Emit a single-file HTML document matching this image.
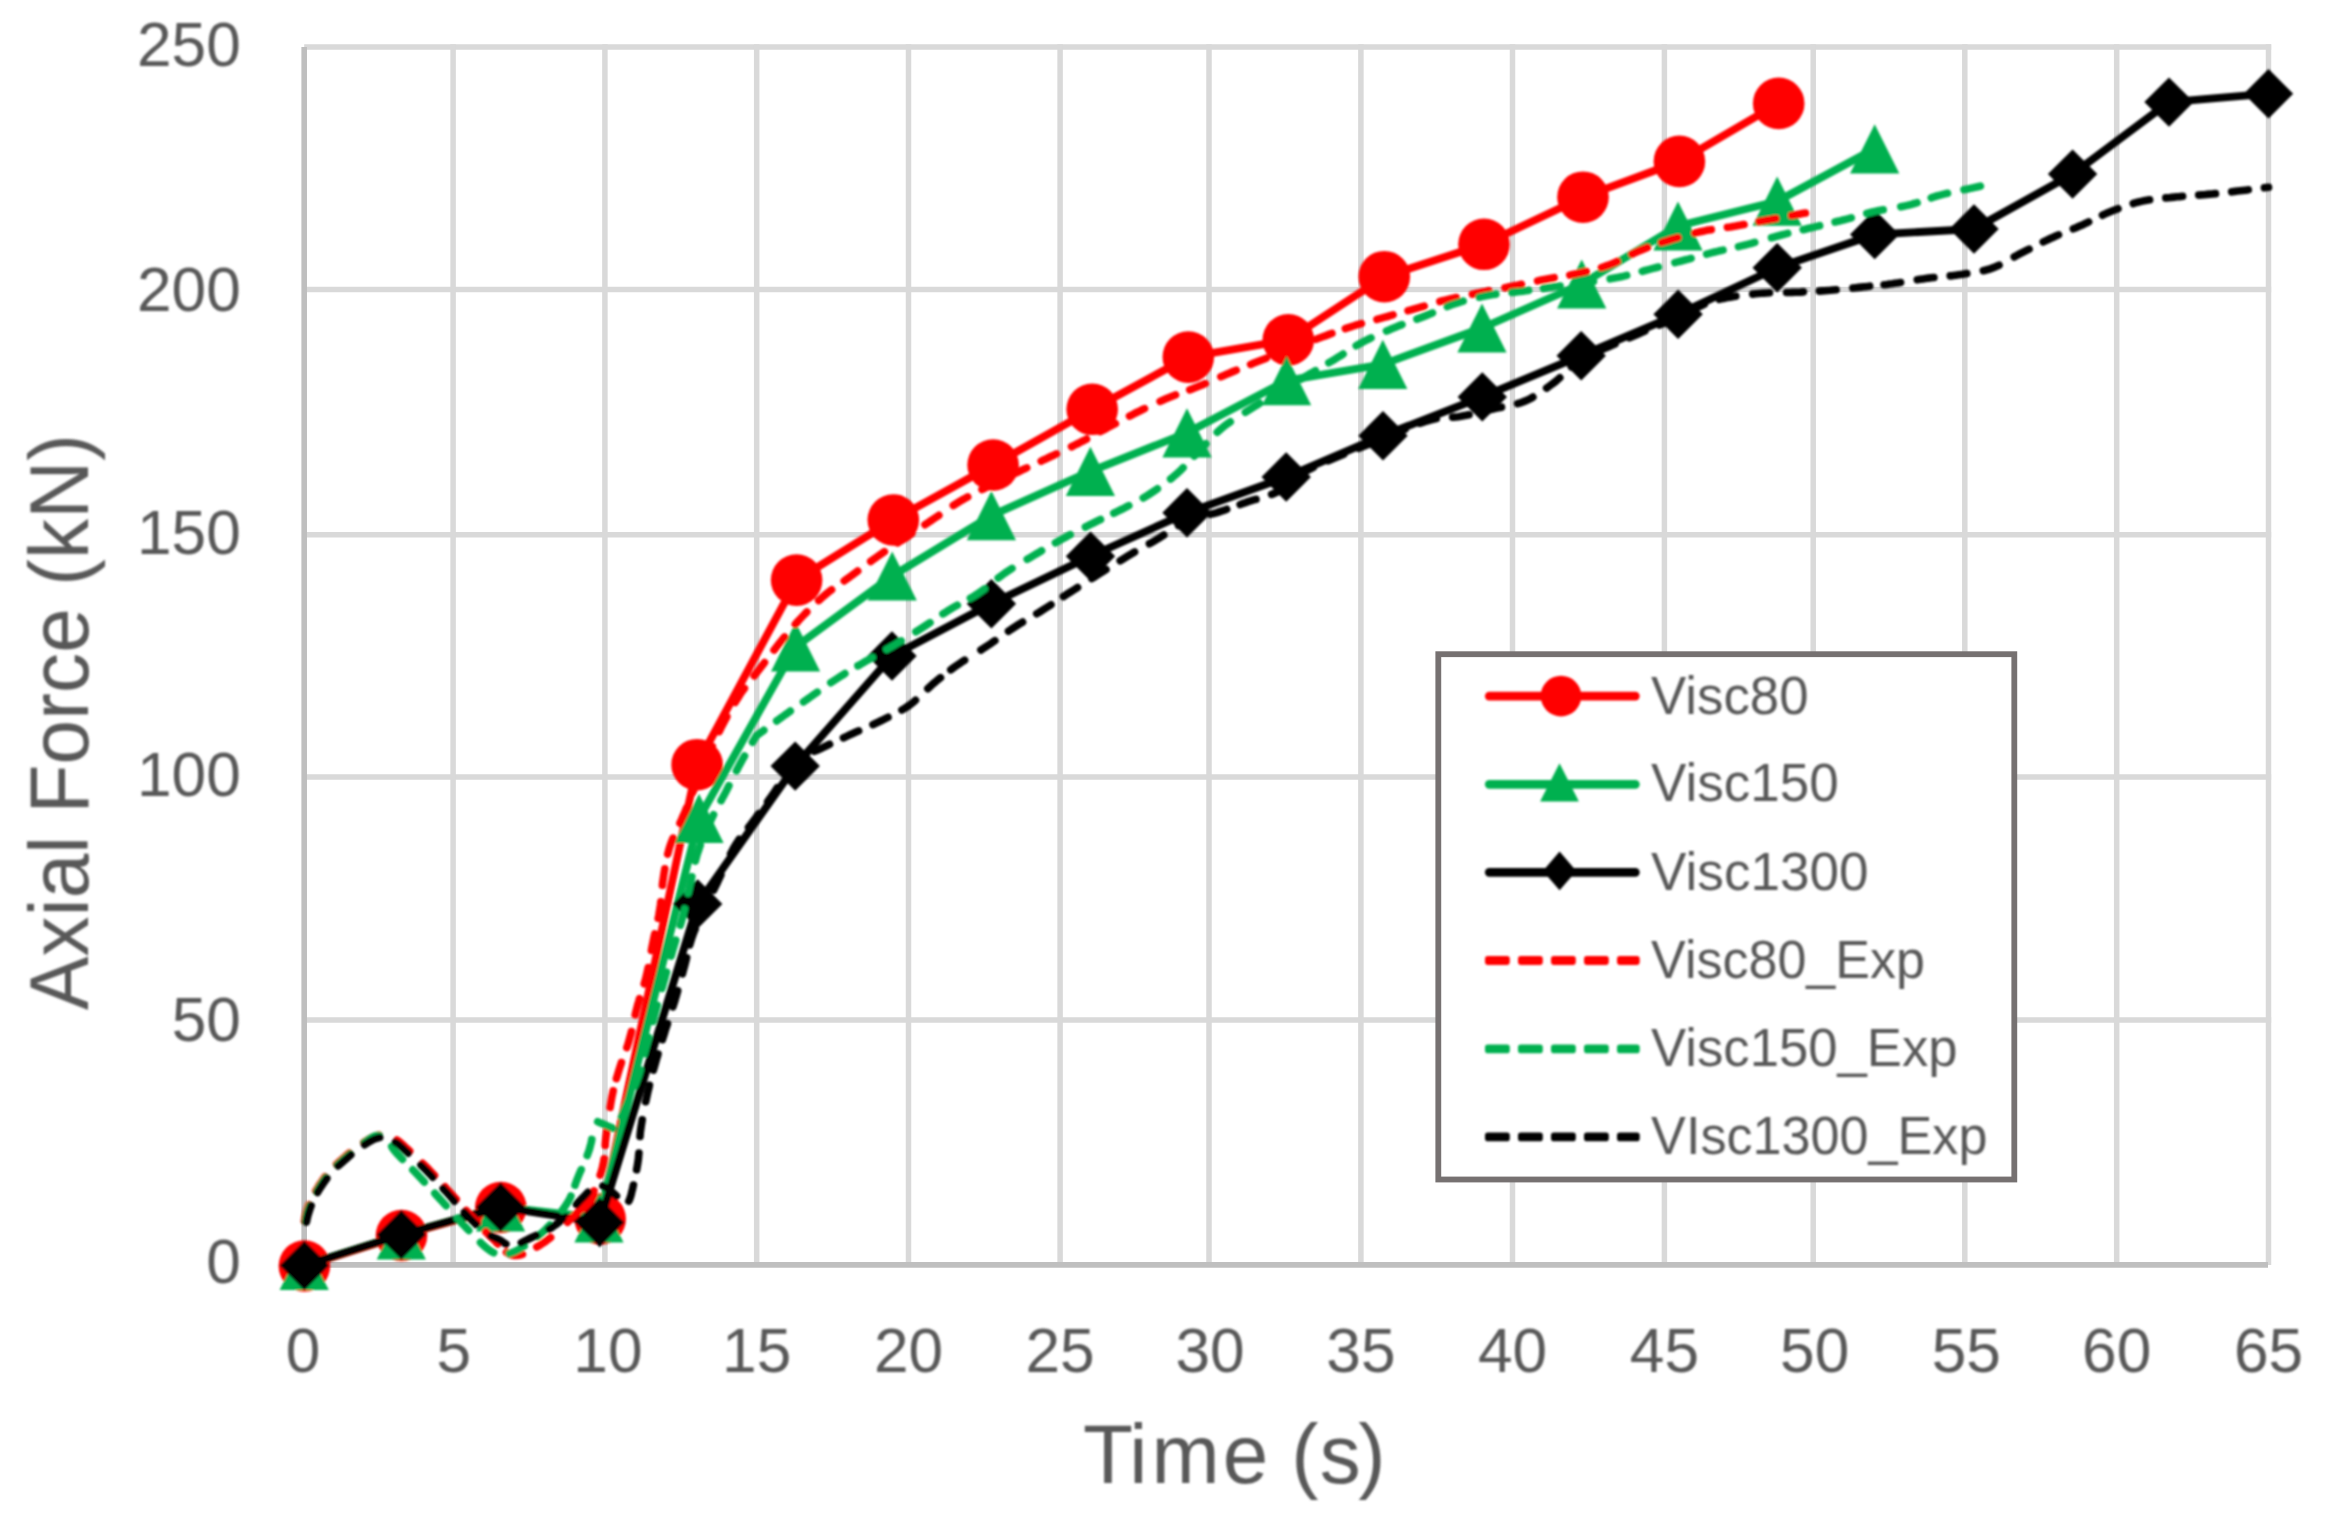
<!DOCTYPE html>
<html lang="en"><head><meta charset="utf-8"><title>Axial Force vs Time</title>
<style>html,body{margin:0;padding:0;background:#fff}body{width:2325px;height:1519px;overflow:hidden}svg{display:block}text{font-family:'Liberation Sans', Arial, sans-serif;fill:#595959}</style></head><body>
<svg width="2325" height="1519" viewBox="0 0 2325 1519">
<rect width="2325" height="1519" fill="#fff"/>
<defs><filter id="soft" x="0" y="0" width="2325" height="1519" filterUnits="userSpaceOnUse"><feGaussianBlur stdDeviation="0.8"/></filter></defs>
<g stroke="#d9d9d9" stroke-width="5.5" fill="none">
<line x1="304.2" y1="47.0" x2="2271.2" y2="47.0"/>
<line x1="304.2" y1="289.4" x2="2271.2" y2="289.4"/>
<line x1="304.2" y1="534.8" x2="2271.2" y2="534.8"/>
<line x1="304.2" y1="777.0" x2="2271.2" y2="777.0"/>
<line x1="304.2" y1="1019.9" x2="2271.2" y2="1019.9"/>
<line x1="453.1" y1="44.3" x2="453.1" y2="1264.9"/>
<line x1="604.9" y1="44.3" x2="604.9" y2="1264.9"/>
<line x1="756.7" y1="44.3" x2="756.7" y2="1264.9"/>
<line x1="908.5" y1="44.3" x2="908.5" y2="1264.9"/>
<line x1="1060.1" y1="44.3" x2="1060.1" y2="1264.9"/>
<line x1="1209.0" y1="44.3" x2="1209.0" y2="1264.9"/>
<line x1="1360.9" y1="44.3" x2="1360.9" y2="1264.9"/>
<line x1="1512.5" y1="44.3" x2="1512.5" y2="1264.9"/>
<line x1="1664.4" y1="44.3" x2="1664.4" y2="1264.9"/>
<line x1="1813.2" y1="44.3" x2="1813.2" y2="1264.9"/>
<line x1="1964.8" y1="44.3" x2="1964.8" y2="1264.9"/>
<line x1="2116.7" y1="44.3" x2="2116.7" y2="1264.9"/>
<line x1="2268.5" y1="44.3" x2="2268.5" y2="1264.9"/>
</g>
<g stroke="#bfbfbf" stroke-width="5.6" fill="none">
<line x1="304.2" y1="47.0" x2="304.2" y2="1267.7"/>
<line x1="301.4" y1="1264.9" x2="2268.0" y2="1264.9"/>
</g>
<g filter="url(#soft)">
<g font-size="62.2">
<text x="240.8" y="65.5" text-anchor="end">250</text>
<text x="240.8" y="311.3" text-anchor="end">200</text>
<text x="240.8" y="553.9" text-anchor="end">150</text>
<text x="240.8" y="795.8" text-anchor="end">100</text>
<text x="240.8" y="1041.2" text-anchor="end">50</text>
<text x="240.8" y="1283.1" text-anchor="end">0</text>
<text x="303.0" y="1371.5" text-anchor="middle">0</text>
<text x="453.7" y="1371.5" text-anchor="middle">5</text>
<text x="607.9" y="1371.5" text-anchor="middle">10</text>
<text x="756.7" y="1371.5" text-anchor="middle">15</text>
<text x="908.5" y="1371.5" text-anchor="middle">20</text>
<text x="1060.1" y="1371.5" text-anchor="middle">25</text>
<text x="1210.0" y="1371.5" text-anchor="middle">30</text>
<text x="1360.9" y="1371.5" text-anchor="middle">35</text>
<text x="1512.5" y="1371.5" text-anchor="middle">40</text>
<text x="1664.4" y="1371.5" text-anchor="middle">45</text>
<text x="1814.7" y="1371.5" text-anchor="middle">50</text>
<text x="1966.3" y="1371.5" text-anchor="middle">55</text>
<text x="2116.7" y="1371.5" text-anchor="middle">60</text>
<text x="2268.5" y="1371.5" text-anchor="middle">65</text>
</g>
<text transform="translate(1084.7,1483.1) scale(0.977,1)" x="-1.7" y="0" dx="0 -0.8 4.1 3.2 0 0.1 1.5 -2.5" font-size="83.8">Time (s)</text>
<text transform="translate(88,1010.1) rotate(-90) scale(0.959,1)" x="0" y="0" font-size="83.8">Axial Force (kN)</text>
<polyline points="304.4,1266.0 401.5,1235.5 500.8,1207.5 600.2,1219.0 697.1,764.7 796.6,580.1 893.3,520.0 993.1,465.0 1092.2,409.3 1188.3,357.1 1288.3,339.8 1384.3,276.7 1484.0,244.3 1583.0,197.2 1679.4,161.4 1778.7,103.4" fill="none" stroke="#ff0000" stroke-width="7.8" stroke-linejoin="round" stroke-linecap="round"/>
<g fill="#ff0000">
<circle cx="304.4" cy="1266.0" r="25.8"/>
<circle cx="401.5" cy="1235.5" r="25.8"/>
<circle cx="500.8" cy="1207.5" r="25.8"/>
<circle cx="600.2" cy="1219.0" r="25.8"/>
<circle cx="697.1" cy="764.7" r="25.8"/>
<circle cx="796.6" cy="580.1" r="25.8"/>
<circle cx="893.3" cy="520.0" r="25.8"/>
<circle cx="993.1" cy="465.0" r="25.8"/>
<circle cx="1092.2" cy="409.3" r="25.8"/>
<circle cx="1188.3" cy="357.1" r="25.8"/>
<circle cx="1288.3" cy="339.8" r="25.8"/>
<circle cx="1384.3" cy="276.7" r="25.8"/>
<circle cx="1484.0" cy="244.3" r="25.8"/>
<circle cx="1583.0" cy="197.2" r="25.8"/>
<circle cx="1679.4" cy="161.4" r="25.8"/>
<circle cx="1778.7" cy="103.4" r="25.8"/>
</g>
<polyline points="304.2,1265.5 401.3,1234.8 500.6,1207.0 599.0,1218.0 699.0,818.3 795.6,646.8 892.2,576.0 991.4,515.6 1090.4,471.3 1187.0,432.8 1286.6,380.6 1382.8,364.3 1482.0,328.0 1581.7,284.0 1678.0,226.0 1777.2,201.2 1874.7,148.8" fill="none" stroke="#00b050" stroke-width="7.8" stroke-linejoin="round" stroke-linecap="round"/>
<g fill="#00b050">
<path d="M304.2 1240.9L328.8 1290.1L279.6 1290.1Z"/>
<path d="M401.3 1210.2L425.9 1259.4L376.7 1259.4Z"/>
<path d="M500.6 1182.4L525.2 1231.6L476.0 1231.6Z"/>
<path d="M599.0 1193.4L623.6 1242.6L574.4 1242.6Z"/>
<path d="M699.0 793.7L723.6 842.9L674.4 842.9Z"/>
<path d="M795.6 622.2L820.2 671.4L771.0 671.4Z"/>
<path d="M892.2 551.4L916.8 600.6L867.6 600.6Z"/>
<path d="M991.4 491.0L1016.0 540.2L966.8 540.2Z"/>
<path d="M1090.4 446.7L1115.0 495.9L1065.8 495.9Z"/>
<path d="M1187.0 408.2L1211.6 457.4L1162.4 457.4Z"/>
<path d="M1286.6 356.0L1311.2 405.2L1262.0 405.2Z"/>
<path d="M1382.8 339.7L1407.4 388.9L1358.2 388.9Z"/>
<path d="M1482.0 303.4L1506.6 352.6L1457.4 352.6Z"/>
<path d="M1581.7 259.4L1606.3 308.6L1557.1 308.6Z"/>
<path d="M1678.0 201.4L1702.6 250.6L1653.4 250.6Z"/>
<path d="M1777.2 176.6L1801.8 225.8L1752.6 225.8Z"/>
<path d="M1874.7 124.2L1899.3 173.4L1850.1 173.4Z"/>
</g>
<polyline points="304.4,1265.5 401.3,1234.8 500.6,1207.1 599.7,1222.5 697.7,903.9 795.2,766.1 892.0,656.0 991.4,603.7 1090.5,556.2 1187.0,512.8 1286.2,477.0 1383.0,435.7 1482.3,396.9 1581.2,355.7 1678.1,314.3 1777.2,267.7 1874.7,234.5 1974.0,229.0 2072.6,174.1 2169.0,102.1 2268.5,93.7" fill="none" stroke="#000000" stroke-width="7.8" stroke-linejoin="round" stroke-linecap="round"/>
<g fill="#000000">
<path d="M304.4 1240.8L329.1 1265.5L304.4 1290.2L279.7 1265.5Z"/>
<path d="M401.3 1210.1L426.0 1234.8L401.3 1259.5L376.6 1234.8Z"/>
<path d="M500.6 1182.4L525.3 1207.1L500.6 1231.8L475.9 1207.1Z"/>
<path d="M599.7 1197.8L624.4 1222.5L599.7 1247.2L575.0 1222.5Z"/>
<path d="M697.7 879.2L722.4 903.9L697.7 928.6L673.0 903.9Z"/>
<path d="M795.2 741.4L819.9 766.1L795.2 790.8L770.5 766.1Z"/>
<path d="M892.0 631.3L916.7 656.0L892.0 680.7L867.3 656.0Z"/>
<path d="M991.4 579.0L1016.1 603.7L991.4 628.4L966.7 603.7Z"/>
<path d="M1090.5 531.5L1115.2 556.2L1090.5 580.9L1065.8 556.2Z"/>
<path d="M1187.0 488.1L1211.7 512.8L1187.0 537.5L1162.3 512.8Z"/>
<path d="M1286.2 452.3L1310.9 477.0L1286.2 501.7L1261.5 477.0Z"/>
<path d="M1383.0 411.0L1407.7 435.7L1383.0 460.4L1358.3 435.7Z"/>
<path d="M1482.3 372.2L1507.0 396.9L1482.3 421.6L1457.6 396.9Z"/>
<path d="M1581.2 331.0L1605.9 355.7L1581.2 380.4L1556.5 355.7Z"/>
<path d="M1678.1 289.6L1702.8 314.3L1678.1 339.0L1653.4 314.3Z"/>
<path d="M1777.2 243.0L1801.9 267.7L1777.2 292.4L1752.5 267.7Z"/>
<path d="M1874.7 209.8L1899.4 234.5L1874.7 259.2L1850.0 234.5Z"/>
<path d="M1974.0 204.3L1998.7 229.0L1974.0 253.7L1949.3 229.0Z"/>
<path d="M2072.6 149.4L2097.3 174.1L2072.6 198.8L2047.9 174.1Z"/>
<path d="M2169.0 77.4L2193.7 102.1L2169.0 126.8L2144.3 102.1Z"/>
<path d="M2268.5 69.0L2293.2 93.7L2268.5 118.4L2243.8 93.7Z"/>
</g>
<path d="M304.4 1220.9L304.5 1220.4L304.7 1219.1L304.9 1217.8L305.2 1216.5L305.5 1215.3L305.8 1214.0L306.1 1212.7L306.5 1211.4L306.9 1210.2L307.3 1208.9L307.7 1207.6L308.2 1206.4L308.7 1205.1L308.9 1204.8M315.7 1190.8L316.5 1189.5L317.2 1188.3L317.9 1187.2L318.6 1186.0L319.3 1184.9L320.1 1183.7L320.9 1182.5L321.7 1181.4L322.4 1180.2L323.3 1179.1L324.1 1177.9L324.9 1176.8M336.5 1164.1L337.5 1163.2L338.5 1162.3L339.6 1161.3L340.7 1160.4L341.7 1159.4L342.8 1158.5L343.8 1157.6L344.9 1156.7L345.9 1155.8L346.9 1154.9L348.0 1154.0L349.1 1153.0M363.8 1142.3L364.8 1141.6L366.2 1140.8L367.5 1140.0L368.7 1139.3L369.9 1138.6L371.0 1138.0L372.0 1137.5L373.0 1137.0L373.9 1136.6L374.8 1136.3L375.7 1136.0L376.5 1135.7L377.2 1135.5L378.0 1135.3L378.9 1135.1M397.0 1140.1L397.5 1140.4L397.9 1140.7L398.2 1140.9L398.5 1141.1L398.9 1141.4L399.3 1141.7L399.8 1142.1L400.5 1142.7L401.3 1143.4L402.3 1144.3L403.5 1145.4L405.0 1146.8L406.7 1148.3L408.6 1150.1L409.7 1151.1M422.7 1163.4L424.5 1165.1L426.7 1167.3L428.7 1169.3L430.6 1171.3L432.5 1173.3L434.5 1175.4M445.0 1186.8L445.2 1187.1L447.0 1189.1L448.8 1191.0L450.6 1193.0L452.4 1195.0L454.2 1197.0L456.0 1199.0L456.2 1199.2M466.3 1210.5L466.7 1210.9L468.4 1212.9L470.2 1214.8L471.9 1216.7L473.6 1218.6L475.3 1220.4L477.0 1222.3L477.5 1222.9M485.8 1231.9L486.9 1233.0L488.5 1234.7L490.3 1236.4L492.0 1238.0L493.8 1239.7L495.5 1241.5L497.2 1243.4L497.7 1243.9M506.5 1252.3L508.1 1253.4L510.0 1254.4L512.1 1255.1L514.2 1255.5L516.4 1255.5L518.7 1255.2L521.1 1254.7L522.5 1254.3M536.8 1247.1L538.9 1245.8L541.4 1244.1L543.9 1242.5L546.4 1240.8L549.0 1238.8L550.6 1237.5M567.5 1222.2L569.3 1220.4L571.5 1218.3L573.5 1216.4L575.4 1214.7L577.1 1213.1L578.7 1211.6L579.7 1210.7M585.3 1205.1L586.6 1203.6L587.8 1202.0L589.0 1200.2L590.2 1198.3L591.4 1196.1L592.6 1193.8L593.8 1191.4L594.0 1190.8M600.1 1175.1L601.0 1172.3L601.8 1169.6L602.5 1167.0L603.1 1164.5L603.6 1162.0L603.9 1159.6L604.1 1158.8M605.2 1145.4L605.2 1145.0L605.4 1142.4L605.7 1139.8L606.0 1137.0L606.4 1134.1L606.8 1131.0L607.1 1128.7M610.1 1107.3L610.5 1104.9L611.0 1101.9L611.5 1099.0L612.0 1096.3L612.6 1093.7L613.1 1091.3L613.2 1090.8M616.4 1078.7L616.7 1077.7L617.4 1075.4L618.1 1073.0L618.8 1070.6L619.6 1068.1L620.4 1065.6L621.3 1063.1L621.4 1062.6M626.8 1047.6L627.7 1044.9L628.5 1042.3L629.3 1039.6L630.0 1036.9L630.8 1034.2L631.4 1031.5M635.2 1014.9L635.8 1012.1L636.5 1009.4L637.2 1006.7L637.9 1004.1L638.7 1001.5L639.5 998.6M644.2 983.8L645.0 981.0L645.7 978.4L646.4 975.7L647.0 973.0L647.6 970.2L648.2 967.5M651.4 950.4L651.9 947.6L652.5 944.9L653.0 942.1L653.6 939.4L654.1 936.7L654.8 933.9M658.2 918.3L658.8 915.4L659.2 912.7L659.7 910.0L660.1 907.3L660.5 904.5L660.8 901.7M662.4 885.3L662.7 882.4L663.1 879.7L663.5 877.0L663.9 874.3L664.3 871.7L664.8 869.1L664.8 868.7M667.7 854.1L667.8 853.8L668.5 851.2L669.2 848.6L670.0 846.0L670.9 843.4L671.9 840.8L673.0 838.1M679.9 823.2L680.2 822.5L681.5 819.8L682.7 816.9L684.0 814.0L685.3 811.0L686.6 807.8M692.7 792.6L692.9 792.0L694.3 788.7L695.7 785.3L697.1 781.9L698.5 778.5L699.1 777.0M705.6 761.9L706.4 760.1L708.1 756.2L709.8 752.2L711.5 748.3L712.3 746.5M719.2 731.6L720.0 730.0L721.6 726.7L723.3 723.5L724.9 720.4L726.6 717.4L726.9 716.7M735.1 702.4L736.3 700.5L738.0 697.9L739.6 695.3L741.2 692.8L742.9 690.4L744.4 688.4M754.2 675.8L754.4 675.5L756.1 673.4L757.7 671.3L759.4 669.2L761.0 667.0L762.7 664.9L764.5 662.5M774.0 650.1L775.8 647.8L777.5 645.6L779.2 643.5L780.9 641.4L782.7 639.2L784.5 637.0M795.3 624.2L797.2 622.1L799.1 620.0L801.0 618.0L802.9 616.0L804.8 614.0L806.8 612.0M818.7 600.5L820.9 598.6L822.9 596.8L825.0 595.0L827.1 593.3L829.2 591.6L831.3 590.0L831.6 589.8M844.2 580.9L844.4 580.7L846.6 579.1L848.8 577.6L851.0 576.0L853.2 574.4L855.4 572.8L857.7 571.0M870.7 561.4L873.0 559.7L875.3 558.1L877.5 556.5L879.8 554.9L882.0 553.4L884.4 551.7M897.7 542.8L898.1 542.6L900.4 541.0L902.7 539.5L905.0 538.0L907.3 536.5L909.5 535.0L911.7 533.5M925.0 524.7L927.4 523.1L929.7 521.5L932.0 520.0L934.3 518.4L936.6 516.9L938.9 515.3M953.3 505.5L955.6 504.0L958.0 502.5L960.4 501.0L962.8 499.6L965.3 498.2L967.7 496.9M982.0 489.5L982.5 489.2L985.0 488.0L987.5 486.7L990.0 485.5L992.5 484.3L995.0 483.0L997.0 482.0M1011.5 475.1L1012.6 474.5L1015.1 473.3L1017.5 472.2L1020.0 471.0L1022.4 469.8L1024.9 468.7L1026.7 467.9M1041.2 461.1L1041.5 460.9L1043.9 459.8L1046.4 458.7L1048.8 457.5L1051.3 456.3L1053.8 455.2L1056.4 453.9M1071.5 446.7L1074.0 445.5L1076.5 444.2L1079.0 443.0L1081.5 441.7L1083.9 440.5L1086.5 439.1M1100.5 431.5L1103.2 430.1L1105.6 428.8L1108.0 427.5L1110.4 426.2L1112.8 424.9L1115.4 423.6M1129.5 416.1L1132.1 414.8L1134.5 413.5L1137.0 412.3L1139.5 411.1L1142.0 409.8L1144.5 408.6M1160.1 401.4L1162.7 400.2L1165.3 399.1L1167.8 398.0L1170.3 397.0L1172.8 396.0L1175.3 395.0L1175.6 394.9M1189.7 389.8L1190.0 389.7L1192.5 388.8L1195.0 387.8L1197.5 386.8L1200.0 385.8L1202.6 384.7L1205.3 383.6M1220.8 376.8L1223.4 375.7L1226.0 374.6L1228.5 373.5L1231.0 372.4L1233.5 371.4L1236.3 370.3M1250.6 364.4L1253.3 363.3L1255.8 362.3L1258.4 361.3L1261.0 360.3L1263.7 359.3L1266.2 358.3M1283.4 351.9L1285.5 351.1L1288.3 350.0L1291.0 349.0L1293.7 347.9L1296.5 346.9L1299.1 345.9M1316.1 339.3L1318.7 338.3L1321.4 337.3L1324.0 336.3L1326.6 335.4L1329.1 334.4L1331.5 333.5L1331.9 333.4M1345.3 328.6L1345.9 328.4L1348.3 327.6L1350.8 326.8L1353.3 326.0L1355.9 325.2L1358.5 324.4L1361.4 323.6M1376.9 319.4L1379.7 318.6L1382.4 317.9L1385.0 317.2L1387.6 316.5L1390.2 315.7L1393.1 314.9M1408.0 310.7L1410.9 309.9L1413.5 309.1L1416.1 308.4L1418.7 307.7L1421.4 306.9L1424.2 306.1M1439.9 301.5L1442.6 300.8L1445.3 300.1L1448.0 299.4L1450.7 298.8L1453.4 298.1L1456.2 297.5M1472.4 294.2L1475.2 293.6L1477.9 293.1L1480.6 292.5L1483.3 291.9L1486.0 291.4L1488.8 290.8M1505.0 287.7L1507.8 287.1L1510.5 286.6L1513.2 286.0L1515.9 285.4L1518.6 284.9L1521.4 284.3M1537.6 280.9L1540.4 280.3L1543.1 279.7L1545.8 279.2L1548.5 278.7L1551.2 278.2L1554.1 277.7M1569.8 275.1L1572.7 274.5L1575.3 274.0L1578.0 273.4L1580.7 272.8L1583.3 272.2L1586.2 271.5M1601.5 267.5L1604.3 266.6L1606.9 265.7L1609.5 264.8L1612.1 263.8L1614.6 262.7L1617.2 261.5M1632.0 254.1L1634.6 252.8L1637.1 251.7L1639.6 250.6L1642.1 249.6L1644.6 248.6L1647.1 247.7L1647.4 247.5M1661.7 242.5L1664.5 241.6L1667.1 240.8L1669.7 240.0L1672.4 239.2L1675.1 238.4L1677.8 237.6M1694.8 233.1L1697.4 232.4L1700.2 231.8L1703.0 231.2L1705.7 230.6L1708.5 230.1L1711.3 229.7M1727.4 227.3L1730.3 226.9L1733.0 226.4L1735.7 226.0L1738.4 225.5L1741.0 225.1L1743.6 224.6L1744.0 224.5M1759.2 221.6L1761.9 221.1L1764.6 220.5L1767.5 220.0L1770.4 219.5L1773.5 218.9L1775.8 218.5M1791.7 215.5L1792.5 215.4L1795.8 214.8L1799.0 214.2L1802.2 213.6L1805.4 213.0" fill="none" stroke="#ff0000" stroke-width="7.6" stroke-linejoin="round" stroke-linecap="round"/>
<path d="M305.3 1221.4L305.4 1221.0L305.6 1219.7L305.8 1218.4L306.1 1217.1L306.4 1215.8L306.7 1214.5L307.0 1213.2L307.4 1211.9L307.8 1210.7L308.2 1209.4L308.7 1208.1L309.2 1206.9L309.7 1205.6L309.8 1205.3M316.5 1191.6L316.6 1191.3L317.3 1190.1L318.0 1189.0L318.6 1187.8L319.3 1186.7L320.1 1185.5L320.8 1184.4L321.6 1183.3L322.3 1182.1L323.1 1181.0L323.9 1179.8L324.8 1178.7L325.6 1177.5M337.2 1164.9L338.2 1164.0L339.2 1163.1L340.3 1162.1L341.4 1161.2L342.4 1160.2L343.5 1159.3L344.5 1158.4L345.6 1157.5L346.6 1156.6L347.7 1155.7L348.7 1154.8L349.9 1153.8M364.3 1142.5L365.5 1141.7L366.8 1140.8L368.0 1139.9L369.2 1139.1L370.3 1138.4L371.3 1137.8L372.2 1137.3L373.0 1136.9L373.8 1136.5L374.5 1136.2L375.1 1136.0L375.7 1135.8L376.2 1135.7L376.8 1135.6L377.3 1135.5L377.9 1135.5L378.4 1135.5L379.2 1135.5M391.7 1146.6L392.0 1147.1L392.3 1147.5L392.5 1148.0L392.8 1148.4L393.2 1149.0L393.6 1149.6L394.1 1150.3L394.8 1151.1L395.7 1152.1L396.7 1153.3L398.0 1154.7L399.4 1156.2L401.0 1157.9L402.5 1159.4M412.8 1169.9L414.8 1171.9L416.7 1173.9L418.6 1175.9L420.4 1177.8L422.2 1179.8L424.1 1181.7L424.3 1182.0M434.8 1193.4L436.8 1195.6L438.7 1197.6L440.5 1199.6L442.4 1201.6L444.2 1203.7L446.1 1205.8M457.3 1218.3L459.2 1220.3L461.1 1222.4L463.0 1224.4L465.0 1226.5L467.0 1228.6L468.8 1230.5M480.5 1242.5L481.5 1243.5L483.3 1245.2L485.1 1246.8L486.7 1248.1L488.2 1249.2L489.5 1250.2L490.7 1251.0L491.8 1251.7L492.8 1252.3L493.7 1252.7M509.2 1253.5L510.5 1253.1L512.0 1252.6L513.6 1252.0L515.2 1251.3L517.0 1250.4L518.9 1249.4L521.0 1248.2L523.1 1246.8L524.2 1246.1M537.6 1236.4L539.5 1234.8L541.8 1232.9L543.9 1230.9L546.0 1228.9L548.1 1226.8L549.8 1225.0M562.2 1210.3L563.9 1208.0L565.5 1205.7L567.0 1203.4L568.3 1201.2L569.5 1199.0L570.6 1196.9L570.9 1196.0M575.0 1185.2L575.4 1184.0L576.2 1181.8L577.0 1179.6L577.9 1177.3L578.9 1174.9L579.9 1172.5L581.0 1170.1L581.2 1169.6M587.2 1155.5L587.4 1154.9L588.3 1152.5L589.2 1150.0L589.9 1147.6L590.5 1145.2L591.1 1142.9L591.6 1140.6L591.8 1139.4M597.7 1121.7L598.1 1121.9L599.0 1122.3L599.9 1122.6L600.8 1123.0L601.8 1123.4L602.7 1123.8L603.6 1124.2L604.5 1124.6L605.4 1125.0L606.3 1125.4L607.2 1125.8L608.2 1126.2L609.1 1126.6L610.0 1127.0L610.9 1127.4L611.9 1127.8L612.8 1128.2L613.1 1128.3M621.5 1117.1L621.9 1116.2L622.7 1114.3L623.5 1112.3L624.3 1110.2L625.1 1108.1L626.0 1106.0L626.9 1103.8L627.9 1101.5M634.9 1085.7L635.1 1085.2L636.1 1082.8L637.0 1080.3L637.9 1077.8L638.7 1075.3L639.5 1072.7L640.3 1069.8M644.4 1053.6L645.0 1050.9L645.7 1048.2L646.4 1045.5L647.1 1042.8L647.8 1040.1L648.6 1037.4M652.8 1021.4L653.5 1018.7L654.3 1016.0L655.0 1013.3L655.7 1010.6L656.5 1007.8L657.2 1005.2M661.9 988.4L662.7 985.8L663.4 983.0L664.2 980.3L665.0 977.6L665.7 974.9L666.5 972.2M671.1 956.2L671.9 953.4L672.6 950.7L673.4 948.1L674.2 945.5L675.0 942.9L675.8 940.1M680.3 925.2L680.4 924.9L681.2 922.3L681.9 919.7L682.6 917.1L683.3 914.5L683.9 911.8L684.6 908.9M688.1 893.2L688.8 890.4L689.4 887.7L690.0 885.0L690.6 882.3L691.2 879.6L691.8 876.8M695.3 861.1L696.1 858.3L696.8 855.6L697.6 853.0L698.5 850.4L699.4 847.8L700.3 845.1M706.4 830.1L706.6 829.6L707.7 827.0L708.9 824.5L710.0 822.0L711.2 819.5L712.4 817.1L713.5 814.8M721.1 800.6L722.5 798.0L723.8 795.6L725.1 793.2L726.4 790.7L727.6 788.3L728.9 785.7M736.5 770.8L737.8 768.3L739.1 765.8L740.4 763.4L741.7 761.0L743.0 758.7L744.5 756.1M752.5 742.3L753.7 740.3L755.1 738.0L756.4 735.7L758.7 734.1L760.9 732.4L763.2 730.8L763.8 730.3M776.7 720.9L779.0 719.2L781.2 717.6L783.5 716.0L785.7 714.4L788.0 712.8L790.3 711.1M803.5 701.8L805.9 700.2L808.1 698.6L810.4 697.0L812.7 695.4L814.9 693.8L817.3 692.2M830.8 682.7L833.2 681.1L835.5 679.6L837.8 678.1L840.1 676.6L842.4 675.2L844.6 673.8L844.9 673.6M857.9 665.8L858.3 665.7L860.6 664.3L862.9 663.0L865.2 661.6L867.6 660.2L869.9 658.9L872.5 657.4M886.7 649.4L889.2 648.0L891.6 646.6L894.0 645.2L896.4 643.8L898.8 642.3L901.2 640.9M915.9 631.8L918.3 630.3L920.7 628.8L923.0 627.3L925.3 625.8L927.6 624.3L930.0 622.7M942.9 613.9L943.3 613.7L945.5 612.3L947.7 610.8L950.0 609.4L952.3 608.0L954.6 606.7L956.9 605.5L957.3 605.2M970.4 598.2L970.7 598.0L973.0 596.7L975.3 595.3L977.6 593.8L979.9 592.2L982.2 590.6L984.4 588.9M998.2 578.0L1000.3 576.4L1002.6 574.7L1005.0 573.0L1007.4 571.4L1009.8 569.8L1012.0 568.4M1027.2 559.3L1029.5 557.9L1032.0 556.4L1034.4 555.0L1036.8 553.6L1039.2 552.2L1041.6 550.7M1055.4 542.8L1058.0 541.4L1060.4 540.0L1062.8 538.7L1065.3 537.4L1067.7 536.0L1070.2 534.7M1085.4 527.0L1088.0 525.7L1090.4 524.4L1092.9 523.2L1095.3 522.0L1097.7 520.8L1100.1 519.7L1100.5 519.5M1113.8 513.2L1114.2 513.0L1116.5 511.9L1118.9 510.7L1121.3 509.5L1123.7 508.3L1126.1 507.0L1128.8 505.7M1143.2 497.9L1145.7 496.4L1148.1 495.0L1150.4 493.5L1152.7 492.0L1155.0 490.5L1157.4 488.8M1170.6 479.0L1172.8 477.2L1174.9 475.4L1177.0 473.6L1179.0 471.8L1181.0 469.9L1183.1 467.8M1194.2 456.0L1196.2 454.0L1198.1 452.0L1200.0 450.0L1201.9 448.0L1203.8 446.1L1205.9 443.9M1217.2 432.3L1219.3 430.4L1221.3 428.6L1223.5 426.8L1225.7 425.1L1228.0 423.4L1230.3 421.8M1245.4 412.2L1247.7 410.8L1250.1 409.3L1252.5 407.8L1254.8 406.3L1257.2 404.9L1259.6 403.3M1272.9 395.2L1273.1 395.1L1275.4 393.7L1277.7 392.4L1280.0 391.0L1282.3 389.6L1284.6 388.3L1287.0 387.0L1287.4 386.7M1300.9 379.1L1303.3 377.7L1305.7 376.3L1308.0 375.0L1310.3 373.6L1312.7 372.3L1315.0 370.9L1315.4 370.7M1328.8 362.8L1331.4 361.3L1333.7 359.9L1336.0 358.5L1338.3 357.1L1340.6 355.7L1342.8 354.3L1343.1 354.1M1356.2 345.8L1358.7 344.3L1361.1 343.0L1363.5 341.7L1365.9 340.4L1368.4 339.2L1371.0 337.9M1386.5 331.0L1389.1 329.9L1391.6 328.8L1394.2 327.7L1396.7 326.7L1399.3 325.6L1402.0 324.6M1416.9 319.1L1419.6 318.1L1422.2 317.1L1424.7 316.1L1427.2 315.1L1429.8 314.0L1432.5 312.9M1447.3 306.5L1450.0 305.4L1452.6 304.5L1455.2 303.6L1457.8 302.8L1460.5 301.9L1463.2 301.1M1479.3 297.2L1482.1 296.6L1484.8 296.0L1487.5 295.5L1490.2 295.0L1493.0 294.6L1495.8 294.2M1512.0 292.4L1514.9 292.1L1517.6 291.8L1520.3 291.5L1523.0 291.2L1525.6 290.8L1528.2 290.5L1528.6 290.4M1543.5 288.4L1543.8 288.3L1546.5 287.9L1549.1 287.6L1551.8 287.2L1554.5 286.8L1557.2 286.4L1560.1 286.0M1576.9 283.7L1579.4 283.3L1582.2 282.9L1585.0 282.5L1587.8 282.1L1590.6 281.7L1593.5 281.3M1610.2 278.8L1613.0 278.3L1615.8 277.8L1618.5 277.3L1621.2 276.7L1623.9 276.1L1626.7 275.4M1642.2 271.3L1645.0 270.5L1647.6 269.8L1650.3 269.1L1653.0 268.4L1655.7 267.7L1658.4 267.0M1674.9 262.6L1677.6 261.9L1680.3 261.2L1683.0 260.5L1685.7 259.8L1688.4 259.1L1691.1 258.3M1706.7 254.1L1709.5 253.4L1712.1 252.7L1714.8 252.0L1717.5 251.4L1720.1 250.7L1723.0 250.1M1738.5 246.6L1741.3 245.9L1744.0 245.3L1746.7 244.6L1749.4 243.9L1752.1 243.2L1754.8 242.4M1771.5 237.7L1774.2 237.0L1776.9 236.2L1779.6 235.5L1782.3 234.8L1785.0 234.1L1787.7 233.4M1803.2 229.7L1806.1 229.0L1808.8 228.3L1811.4 227.7L1814.1 227.1L1816.7 226.4L1819.6 225.7M1835.1 222.0L1837.9 221.3L1840.6 220.7L1843.2 220.0L1845.8 219.3L1848.5 218.6L1851.3 217.8M1866.8 213.4L1869.6 212.7L1872.3 212.0L1875.0 211.4L1877.8 210.8L1880.6 210.2L1883.2 209.8M1900.8 206.8L1903.5 206.2L1906.3 205.6L1909.0 205.0L1911.6 204.3L1914.2 203.5L1916.8 202.8L1917.1 202.7M1931.3 197.8L1931.6 197.6L1934.1 196.8L1936.7 196.0L1939.3 195.3L1942.0 194.6L1944.9 193.9L1947.5 193.3M1964.0 189.7L1965.4 189.4L1967.9 188.9L1970.2 188.4L1972.2 188.0L1973.9 187.6L1975.4 187.3L1976.7 187.0L1977.7 186.8L1978.6 186.5L1979.5 186.4L1980.4 186.1" fill="none" stroke="#00b050" stroke-width="7.6" stroke-linejoin="round" stroke-linecap="round"/>
<path d="M306.4 1222.0L306.6 1221.3L306.8 1220.0L307.1 1218.8L307.4 1217.5L307.7 1216.3L308.0 1215.0L308.4 1213.8L308.8 1212.5L309.2 1211.3L309.6 1210.0L310.0 1208.8L310.4 1207.5L310.9 1206.3L311.1 1205.8M317.5 1192.4L317.7 1192.1L318.4 1190.9L319.1 1189.8L319.8 1188.7L320.5 1187.5L321.3 1186.4L322.0 1185.3L322.8 1184.2L323.5 1183.0L324.3 1181.9L325.1 1180.8L325.9 1179.6L326.8 1178.4M338.2 1165.9L339.2 1165.1L340.2 1164.1L341.3 1163.2L342.4 1162.2L343.5 1161.3L344.5 1160.4L345.5 1159.5L346.6 1158.6L347.6 1157.7L348.6 1156.8L349.6 1155.9L350.6 1155.1L350.8 1154.9M364.6 1144.7L365.9 1143.8L367.2 1143.0L368.4 1142.2L369.6 1141.5L370.8 1140.9L371.8 1140.3L372.8 1139.8L373.7 1139.4L374.5 1139.0L375.4 1138.7L376.1 1138.4L376.9 1138.2L377.6 1137.9L378.3 1137.8L379.0 1137.6L379.7 1137.5M395.4 1142.3L396.0 1142.6L396.3 1142.8L396.7 1143.0L397.0 1143.2L397.4 1143.5L397.8 1143.8L398.3 1144.2L399.0 1144.7L399.8 1145.4L400.8 1146.3L402.0 1147.4L403.5 1148.7L405.1 1150.3L407.0 1152.0L408.2 1153.1M420.9 1165.2L422.7 1166.9L424.9 1169.1L426.9 1171.1L428.8 1173.1L430.7 1175.0L432.7 1177.2M443.2 1188.6L443.4 1188.9L445.2 1190.8L447.0 1192.8L448.8 1194.8L450.6 1196.8L452.4 1198.9L454.4 1201.1M464.4 1212.3L465.2 1213.2L466.9 1215.1L468.5 1216.8L470.1 1218.5L471.6 1220.1L473.1 1221.5L474.5 1223.0L476.0 1224.4M491.1 1236.1L491.5 1236.3L492.6 1236.8L493.6 1237.2L494.6 1237.6L495.6 1238.1L496.7 1238.5L497.7 1239.0L498.8 1239.5L499.9 1240.1L500.9 1240.7L502.0 1241.4L503.0 1242.2L504.1 1242.9L505.2 1243.6L505.9 1244.0M521.3 1242.8L522.2 1242.3L523.7 1241.5L525.3 1240.7L526.9 1239.8L528.7 1238.9L530.6 1238.0L532.7 1237.0L534.9 1236.1L536.3 1235.4M549.2 1229.0L551.6 1227.6L553.9 1226.0L556.2 1224.4L558.5 1222.6L560.7 1220.6L562.5 1218.9M576.4 1204.4L578.5 1202.0L580.4 1200.1L582.2 1198.3L583.8 1196.7L585.3 1195.1L586.7 1193.6L587.9 1192.2M602.9 1186.0L603.4 1186.2L604.7 1186.9L606.0 1187.7L607.2 1188.5L608.5 1189.4L609.7 1190.3L610.9 1191.2L612.0 1192.0L613.1 1192.9L614.3 1193.9L615.4 1195.0L616.4 1196.0M628.8 1201.1L629.1 1200.5L629.3 1200.0L629.6 1199.5L629.8 1198.8L630.1 1198.1L630.4 1197.2L630.7 1196.1L631.1 1194.8L631.5 1193.2L631.9 1191.3L632.5 1189.2L633.0 1186.8L633.4 1185.0M636.6 1169.7L637.1 1167.0L637.6 1164.2L638.0 1161.4L638.4 1158.7L638.6 1156.0L638.9 1153.1M640.0 1136.5L640.2 1133.7L640.5 1130.9L640.9 1128.1L641.3 1125.3L641.8 1122.4L642.2 1119.8M645.7 1101.7L646.3 1099.1L646.9 1096.3L647.5 1093.5L648.1 1090.8L648.8 1088.1L649.4 1085.3M653.4 1070.1L653.5 1069.7L654.3 1067.1L655.0 1064.6L655.7 1062.0L656.4 1059.4L657.2 1056.9L657.9 1054.4L658.0 1053.9M662.4 1039.7L662.5 1039.4L663.3 1036.9L664.1 1034.3L664.9 1031.7L665.7 1029.0L666.6 1026.4L667.5 1023.7M672.9 1006.8L673.7 1004.3L674.6 1001.6L675.4 998.8L676.2 996.1L677.0 993.3L677.7 990.7M682.4 973.9L683.1 971.3L683.8 968.6L684.6 965.8L685.3 963.1L686.0 960.4L686.6 957.7M689.7 944.9L689.8 944.5L690.7 941.6L691.6 938.6L692.7 935.4L694.0 932.0L695.2 929.0M700.6 917.0L701.0 916.2L703.1 911.8L705.2 907.4L707.4 903.0L707.9 901.9M713.7 890.1L715.6 886.2L717.4 882.5L719.0 879.0L720.6 875.6L720.9 874.9M730.6 853.8L731.7 851.7L733.1 849.0L734.6 846.4L736.1 843.9L737.7 841.5L739.1 839.3M748.5 827.2L748.8 826.8L750.4 824.8L752.0 822.7L753.6 820.6L755.2 818.5L756.7 816.4L758.2 814.3L758.6 813.8M767.6 801.6L769.1 799.5L770.8 797.2L772.5 794.8L774.2 792.3L776.0 789.5L777.1 787.8M786.8 772.1L787.0 771.8L789.0 769.0L790.9 766.5L793.0 764.1L795.0 762.0L797.1 760.2L797.9 759.6M814.3 751.3L815.0 751.0L817.3 750.1L819.7 749.1L822.0 748.0L824.3 746.8L826.7 745.7L829.1 744.5L829.6 744.3M843.4 737.8L843.7 737.7L846.1 736.6L848.6 735.4L851.0 734.3L853.4 733.2L855.9 732.1L858.4 731.0L858.7 730.9M872.9 724.6L873.2 724.5L875.6 723.3L878.1 722.2L880.5 721.0L882.9 719.8L885.3 718.6L887.8 717.4L888.0 717.3M901.9 710.0L904.5 708.5L906.8 707.0L909.0 705.5L911.2 703.9L913.4 702.1L915.5 700.2M927.8 688.6L930.0 686.6L932.0 684.7L934.0 683.0L936.0 681.3L937.9 679.7L939.8 678.2L940.5 677.7M950.8 669.8L951.3 669.4L953.3 667.9L955.4 666.4L957.6 664.9L959.9 663.3L962.3 661.7L964.6 660.2M980.9 650.0L983.0 648.6L985.5 647.0L988.0 645.4L990.4 643.8L992.7 642.2L994.9 640.7M1008.5 631.2L1010.9 629.5L1013.2 628.0L1015.5 626.5L1017.8 625.0L1020.2 623.5L1022.6 622.1M1036.7 613.7L1039.3 612.2L1041.6 610.7L1043.9 609.3L1046.1 607.9L1048.1 606.6L1050.0 605.4L1051.0 604.8M1063.4 596.5L1064.3 595.9L1067.2 594.1L1070.5 592.0L1074.3 589.6L1077.6 587.5M1091.8 578.5L1093.5 577.5L1098.8 574.1L1104.1 570.8L1106.0 569.6M1120.2 560.7L1123.5 558.7L1127.4 556.3L1130.8 554.2L1133.9 552.4L1134.6 552.0M1149.4 543.7L1150.0 543.4L1152.1 542.2L1154.3 540.9L1156.7 539.5L1159.2 538.0L1161.7 536.4L1163.8 535.0M1178.5 525.5L1179.3 525.0L1181.9 523.6L1184.4 522.2L1187.0 521.0L1189.6 519.9L1192.2 519.0L1193.7 518.5M1210.6 514.2L1210.9 514.1L1213.5 513.5L1216.1 512.8L1218.7 512.0L1221.2 511.2L1223.7 510.4L1226.2 509.5L1226.7 509.3M1240.1 504.5L1240.7 504.3L1243.1 503.4L1245.5 502.6L1248.0 501.7L1250.5 500.9L1252.9 500.1L1255.4 499.4L1256.0 499.3M1271.6 494.4L1272.9 493.9L1275.4 492.8L1278.0 491.5L1280.5 490.1L1282.7 488.6L1284.9 486.9L1286.0 486.0M1298.7 475.7L1299.1 475.5L1302.3 473.4L1305.9 471.2L1310.0 469.0L1313.3 467.4M1328.2 460.7L1332.3 459.0L1338.8 456.3L1343.7 454.3M1358.8 448.2L1365.6 445.5L1371.9 443.0L1374.4 442.0M1389.6 435.8L1392.5 434.6L1397.0 432.7L1401.2 430.9L1405.0 429.3M1420.2 423.2L1423.4 422.1L1426.7 421.0L1430.0 420.0L1433.1 419.2L1436.3 418.5M1452.6 417.2L1453.5 417.1L1455.9 417.0L1458.3 416.7L1460.9 416.3L1463.5 415.8L1466.2 415.3L1468.8 414.7L1469.1 414.7M1485.1 410.9L1487.6 410.3L1490.3 409.6L1493.0 409.0L1495.7 408.4L1498.4 407.8L1501.5 407.2M1517.5 403.7L1520.3 402.8L1522.9 401.9L1525.4 400.9L1527.9 399.8L1530.3 398.6L1532.9 397.1M1546.6 388.1L1548.8 386.5L1551.1 384.8L1553.4 383.1L1555.7 381.4L1557.8 379.5L1559.8 377.7M1571.4 367.0L1572.8 365.9L1575.4 363.9L1578.1 361.9L1581.2 360.0L1584.5 358.1L1585.4 357.7M1599.6 350.7L1600.1 350.5L1604.3 348.6L1608.7 346.7L1613.0 344.8L1615.0 344.0M1629.5 337.7L1630.0 337.5L1634.1 335.7L1638.3 333.9L1642.6 332.1L1644.9 331.1M1659.5 325.0L1663.7 323.2L1667.6 321.6L1671.3 320.0L1674.9 318.4M1689.2 311.7L1691.0 310.7L1693.1 309.6L1695.2 308.6L1697.1 307.6L1699.1 306.6L1701.0 305.7L1703.0 304.8L1704.3 304.3M1719.3 299.3L1721.2 298.9L1723.2 298.5L1725.3 298.0L1727.5 297.6L1729.9 297.2L1732.5 296.7L1735.1 296.3L1735.8 296.2M1752.7 294.1L1755.4 293.8L1758.3 293.5L1761.1 293.3L1763.9 293.1L1766.7 293.0L1769.5 292.8M1786.6 292.5L1789.4 292.5L1792.2 292.4L1795.0 292.3L1797.8 292.2L1800.5 292.1L1803.4 291.9M1819.3 291.1L1822.2 290.9L1824.9 290.7L1827.7 290.5L1830.5 290.3L1833.3 290.0L1836.1 289.8M1852.9 288.0L1855.8 287.7L1858.6 287.4L1861.3 287.1L1864.0 286.8L1866.6 286.6L1869.2 286.3L1869.7 286.2M1884.0 284.7L1884.4 284.7L1887.0 284.4L1889.6 284.0L1892.3 283.7L1895.0 283.3L1897.7 282.9L1900.6 282.5M1917.3 279.7L1920.0 279.3L1922.8 278.9L1925.6 278.5L1928.4 278.1L1931.1 277.8L1933.9 277.5M1950.2 275.9L1953.0 275.6L1955.8 275.2L1958.5 274.8L1961.3 274.4L1964.0 274.0L1966.8 273.6M1983.3 270.7L1986.1 270.0L1988.8 269.3L1991.4 268.4L1994.0 267.4L1996.6 266.3L1999.1 265.2M2014.2 256.9L2016.7 255.5L2019.1 254.2L2021.6 252.9L2024.1 251.6L2026.5 250.4L2029.1 249.1M2043.2 241.9L2045.9 240.6L2048.3 239.5L2050.8 238.3L2053.3 237.2L2055.8 236.1L2058.5 234.9M2073.3 228.8L2076.0 227.7L2078.5 226.6L2081.0 225.5L2083.5 224.4L2085.9 223.2L2088.3 222.1L2088.6 221.9M2102.5 215.2L2102.8 215.0L2105.2 213.9L2107.7 212.8L2110.2 211.8L2112.7 210.8L2115.3 209.8L2118.0 208.7M2133.2 203.5L2136.0 202.7L2138.6 202.0L2141.3 201.4L2144.0 200.8L2146.7 200.3L2149.6 199.8M2165.8 197.9L2168.7 197.7L2171.5 197.4L2174.2 197.1L2176.9 196.8L2179.7 196.6L2182.6 196.3M2198.7 195.1L2201.6 194.9L2204.4 194.7L2207.1 194.4L2209.9 194.1L2212.6 193.9L2215.5 193.6M2231.7 191.8L2232.1 191.7L2234.8 191.4L2237.4 191.1L2240.0 190.8L2242.5 190.5L2245.0 190.2L2247.4 189.9L2248.3 189.8M2264.4 187.8L2266.1 187.6L2268.5 187.3" fill="none" stroke="#000000" stroke-width="7.6" stroke-linejoin="round" stroke-linecap="round"/>
</g>
<rect x="1438.3" y="654.2" width="576" height="525.3" fill="#fff" stroke="#767171" stroke-width="5.8"/>
<g filter="url(#soft)">
<line x1="1489.3" y1="696.1" x2="1635.3" y2="696.1" stroke="#ff0000" stroke-width="8.8" stroke-linecap="round"/>
<circle cx="1561.0" cy="696.1" r="20.3" fill="#ff0000"/>
<line x1="1489.3" y1="784.3" x2="1635.3" y2="784.3" stroke="#00b050" stroke-width="8.8" stroke-linecap="round"/>
<path d="M1559.5 763.3L1578.9 801.4L1540.1 801.4Z" fill="#00b050"/>
<line x1="1489.3" y1="872.3" x2="1635.3" y2="872.3" stroke="#000000" stroke-width="8.8" stroke-linecap="round"/>
<path d="M1559.6 851.5L1576.3 870.9L1559.6 890.3L1542.9 870.9Z" fill="#000000"/>
<g fill="#ff0000">
<rect x="1485.0" y="956.1" width="24.8" height="8.8" rx="2.8"/>
<rect x="1518.0" y="956.1" width="24.8" height="8.8" rx="2.8"/>
<rect x="1551.0" y="956.1" width="24.8" height="8.8" rx="2.8"/>
<rect x="1584.0" y="956.1" width="24.8" height="8.8" rx="2.8"/>
<rect x="1617.0" y="956.1" width="22.7" height="8.8" rx="2.8"/>
</g>
<g fill="#00b050">
<rect x="1485.0" y="1044.4" width="24.8" height="8.8" rx="2.8"/>
<rect x="1518.0" y="1044.4" width="24.8" height="8.8" rx="2.8"/>
<rect x="1551.0" y="1044.4" width="24.8" height="8.8" rx="2.8"/>
<rect x="1584.0" y="1044.4" width="24.8" height="8.8" rx="2.8"/>
<rect x="1617.0" y="1044.4" width="22.7" height="8.8" rx="2.8"/>
</g>
<g fill="#000000">
<rect x="1485.0" y="1132.4" width="24.8" height="8.8" rx="2.8"/>
<rect x="1518.0" y="1132.4" width="24.8" height="8.8" rx="2.8"/>
<rect x="1551.0" y="1132.4" width="24.8" height="8.8" rx="2.8"/>
<rect x="1584.0" y="1132.4" width="24.8" height="8.8" rx="2.8"/>
<rect x="1617.0" y="1132.4" width="22.7" height="8.8" rx="2.8"/>
</g>
<text transform="translate(1651.6,713.9) scale(0.9956,1)" x="-0.5" y="0" font-size="53.0">Visc80</text>
<text transform="translate(1651.6,801.4) scale(1.0007,1)" x="-0.5" y="0" font-size="53.0">Visc150</text>
<text transform="translate(1651.6,889.9) scale(1.0021,1)" x="-0.5" y="0" font-size="53.0">Visc1300</text>
<text transform="translate(1651.6,977.5) scale(0.9821,1)" x="-0.5" y="0" font-size="53.0">Visc80_Exp</text>
<text transform="translate(1651.6,1065.5) scale(0.9941,1)" x="-0.5" y="0" font-size="53.0">Visc150_Exp</text>
<text transform="translate(1651.6,1153.5) scale(0.9841,1)" x="-0.5" y="0" font-size="53.0">VIsc1300_Exp</text>
</g>
</svg></body></html>
